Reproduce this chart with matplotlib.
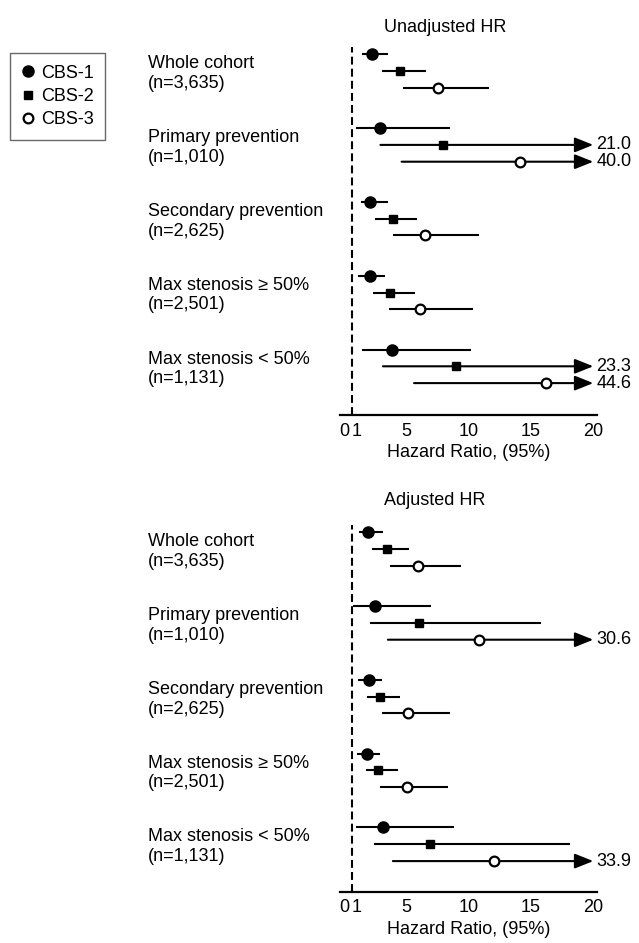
import matplotlib
matplotlib.use("Agg")
import matplotlib.pyplot as plt
from matplotlib.lines import Line2D
from matplotlib.transforms import blended_transform_factory

plt.rcParams['font.family'] = ['Liberation Sans', 'DejaVu Sans']

# ---------------- data ----------------
groups = ['Whole cohort\n(n=3,635)', 'Primary prevention\n(n=1,010)',
          'Secondary prevention\n(n=2,625)', 'Max stenosis \u2265 50%\n(n=2,501)',
          'Max stenosis < 50%\n(n=1,131)']
series = ['CBS-1', 'CBS-2', 'CBS-3']
panel_titles = ['Unadjusted HR', 'Adjusted HR']
xticks = [0, 1, 5, 10, 15, 20]
xlabel = 'Hazard Ratio, (95%)'

unadj_hr = [[2.2, 4.5, 7.5], [2.9, 7.9, 14.1], [2.1, 3.9, 6.5], [2.1, 3.7, 6.1], [3.8, 9.0, 16.2]]
unadj_lo = [[1.4, 3.0, 4.7], [0.9, 2.9, 4.6], [1.3, 2.5, 3.9], [1.1, 2.3, 3.6], [1.4, 3.1, 5.6]]
unadj_hi = [[3.5, 6.6, 11.6], [8.5, 21.0, 40.0], [3.5, 5.8, 10.8], [3.3, 5.7, 10.3], [10.2, 23.3, 44.6]]

adj_hr = [[1.9, 3.4, 5.9], [2.5, 6.0, 10.8], [2.0, 2.9, 5.1], [1.8, 2.7, 5.0], [3.1, 6.9, 12.0]]
adj_lo = [[1.2, 2.2, 3.7], [0.7, 2.1, 3.5], [1.1, 1.8, 3.0], [1.0, 1.7, 2.9], [0.9, 2.4, 3.9]]
adj_hi = [[3.1, 5.2, 9.4], [7.0, 15.8, 30.6], [3.0, 4.5, 8.5], [2.9, 4.3, 8.3], [8.8, 18.1, 33.9]]

panels = [(unadj_hr, unadj_lo, unadj_hi), (adj_hr, adj_lo, adj_hi)]

# ---------------- style ----------------
W, H = 639, 943
DPI = 100
FS = 13
XMAX = 20
REF_X = 0.6
GROUP_GAP = 73.8
ROW_STEP = 16.8
marker_styles = [dict(marker='o', ms=8.0, mfc='black', mec='black', mew=1.0),
                 dict(marker='s', ms=6.3, mfc='black', mec='black', mew=1.0),
                 dict(marker='o', ms=7.0, mfc='white', mec='black', mew=1.6)]

fig = plt.figure(figsize=(W / DPI, H / DPI), dpi=DPI)

# axes placement in pixels: (left, top, right, bottom, first-row)
ax_px = [(340, 47.3, 597, 415, 54.3), (340, 525.3, 597, 891.7, 532.3)]
title_px = [(384, 27), (384, 501)]

for p, (hr, lo, hi) in enumerate(panels):
    l, t, r, b, r0 = ax_px[p]
    ax = fig.add_axes([l / W, 1 - b / H, (r - l) / W, (b - t) / H])
    ax.set_xlim(-0.35, 20.3)
    ax.set_ylim(b - r0, -(r0 - t))
    for sp in ['top', 'right', 'left']:
        ax.spines[sp].set_visible(False)
    ax.spines['bottom'].set_linewidth(1.6)
    ax.set_yticks([])
    ax.set_xticks(xticks)
    ax.set_xticklabels([str(v) for v in xticks], fontsize=FS)
    ax.tick_params(axis='x', length=0, pad=5.5)
    ax.set_xlabel(xlabel, fontsize=FS, labelpad=3)
    ax.axvline(REF_X, color='black', lw=1.5, ls=(0, (3.8, 2.0)), zorder=1)

    tr = blended_transform_factory(fig.transFigure, ax.transData)
    for g, gname in enumerate(groups):
        ymid = g * GROUP_GAP + ROW_STEP
        ax.text(148 / W, ymid + 2.5, gname, transform=tr, fontsize=FS,
                ha='left', va='center', linespacing=1.2)
        for s in range(3):
            y = g * GROUP_GAP + s * ROW_STEP
            if hi[g][s] > XMAX:
                ax.annotate('', xy=(XMAX, y), xytext=(lo[g][s], y),
                            arrowprops=dict(arrowstyle='-|>,head_length=0.7,head_width=0.28',
                                            mutation_scale=16, lw=1.5, color='black',
                                            shrinkA=0, shrinkB=0),
                            annotation_clip=False, zorder=2)
                ax.text(XMAX + 0.25, y, f'{hi[g][s]:.1f}', fontsize=FS,
                        ha='left', va='center', clip_on=False)
            else:
                ax.plot([lo[g][s], hi[g][s]], [y, y], color='black', lw=1.5,
                        solid_capstyle='butt', zorder=2)
            ax.plot([hr[g][s]], [y], ls='none', zorder=3, **marker_styles[s])

    tx, ty = title_px[p]
    fig.text(tx / W, 1 - ty / H, panel_titles[p], fontsize=FS, ha='left', va='center')

handles = [Line2D([], [], ls='none', **marker_styles[s]) for s in range(3)]
leg = fig.legend(handles, series, loc='upper left', bbox_to_anchor=(10 / W, 1 - 53 / H),
                 frameon=True, fancybox=False, edgecolor='#444444', fontsize=FS,
                 handlelength=0.7, handletextpad=0.35, borderpad=0.65,
                 labelspacing=0.35, borderaxespad=0)
leg.get_frame().set_linewidth(1.0)

fig.savefig('out.png', dpi=DPI)
